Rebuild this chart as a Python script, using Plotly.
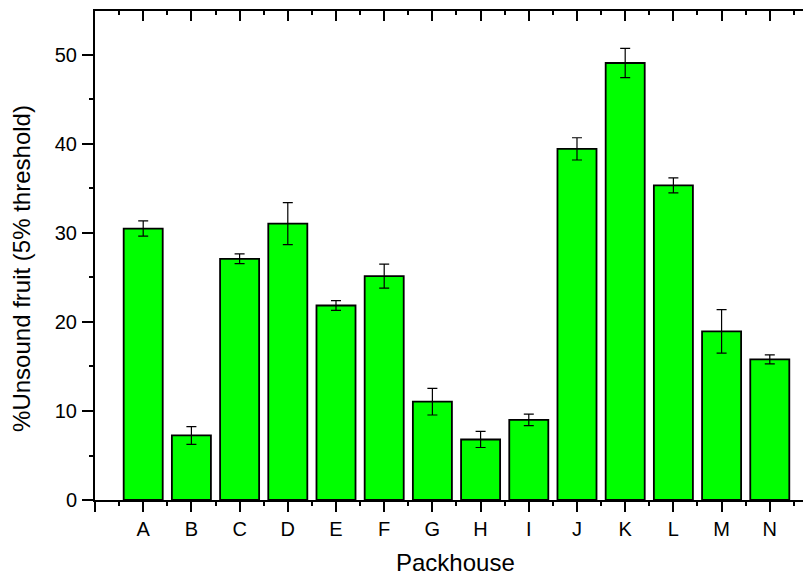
import plotly.graph_objects as go

packhouses = ["A", "B", "C", "D", "E", "F", "G", "H", "I", "J", "K", "L", "M", "N"]
unsound = [30.5, 7.25, 27.1, 31.05, 21.85, 25.15, 11.05, 6.8, 9.0, 39.45, 49.1, 35.35, 18.95, 15.8]
errors = [0.85, 1.0, 0.55, 2.35, 0.55, 1.35, 1.5, 0.9, 0.65, 1.25, 1.65, 0.85, 2.45, 0.5]
positions = list(range(1, len(packhouses) + 1))

FONT = "Liberation Sans, Arial, sans-serif"

fig = go.Figure()
fig.add_trace(go.Bar(
    x=positions, y=unsound, width=0.81,
    marker=dict(color="#00ff00", line=dict(color="#000000", width=1.8)),
    error_y=dict(type="data", array=errors, visible=True, color="#000000",
                 thickness=1.2, width=5),
    showlegend=False, hoverinfo="skip",
))
# dummy trace for top/right axes
fig.add_trace(go.Scatter(x=[0.0], y=[0.0], xaxis="x2", yaxis="y2", mode="markers",
                         marker=dict(opacity=0), showlegend=False, hoverinfo="skip"))

xr = [0, 14.855]
yr = [0, 54.94]

fig.update_layout(
    width=803, height=567,
    margin=dict(l=87, r=0, t=3, b=75),
    paper_bgcolor="white", plot_bgcolor="white",
    font=dict(family=FONT, size=20, color="#000000"),
    xaxis=dict(
        range=xr, tickmode="array", tickvals=[0] + positions, ticktext=[""] + packhouses,
        ticks="outside", ticklen=10, tickwidth=1.5, tickcolor="black",
        showline=True, linecolor="black", linewidth=2, showgrid=False, zeroline=False,
        minor=dict(tickmode="linear", tick0=0.5, dtick=1, ticks="outside", ticklen=4,
                   tickwidth=1.5, tickcolor="black", showgrid=False),
        tickfont=dict(size=20), ticklabelstandoff=0,
    ),
    yaxis=dict(
        range=yr, tickmode="linear", tick0=0, dtick=10,
        ticks="outside", ticklen=11, tickwidth=1.5, tickcolor="black",
        showline=True, linecolor="black", linewidth=2, showgrid=False, zeroline=False,
        minor=dict(tickmode="linear", tick0=5, dtick=10, ticks="outside", ticklen=4,
                   tickwidth=1.5, tickcolor="black", showgrid=False),
        tickfont=dict(size=20), ticklabelstandoff=1,
    ),
    xaxis2=dict(
        overlaying="x", side="top", range=xr, tickmode="linear", tick0=0, dtick=1,
        ticks="inside", ticklen=10, tickwidth=1.5, tickcolor="black",
        showline=True, linecolor="black", linewidth=2, showgrid=False, zeroline=False,
        showticklabels=False,
        minor=dict(tickmode="linear", tick0=0.5, dtick=1, ticks="inside", ticklen=4,
                   tickwidth=1.5, tickcolor="black", showgrid=False),
    ),
    yaxis2=dict(
        overlaying="y", side="right", range=yr, tickmode="linear", tick0=0, dtick=10,
        ticks="inside", ticklen=4, tickwidth=1.5, tickcolor="black",
        showline=False, showgrid=False, zeroline=False, showticklabels=False,
    ),
    annotations=[
        dict(text="Packhouse", xref="paper", yref="paper", x=0.504, y=-0.1288,
             xanchor="center", yanchor="middle", showarrow=False,
             font=dict(size=24, family=FONT, color="black")),
        dict(text="%Unsound fruit (5% threshold)", xref="paper", yref="paper",
             x=-0.1035, y=0.4744, textangle=-90,
             xanchor="center", yanchor="middle", showarrow=False,
             font=dict(size=24, family=FONT, color="black")),
    ],
)

fig.write_html("out.html")
